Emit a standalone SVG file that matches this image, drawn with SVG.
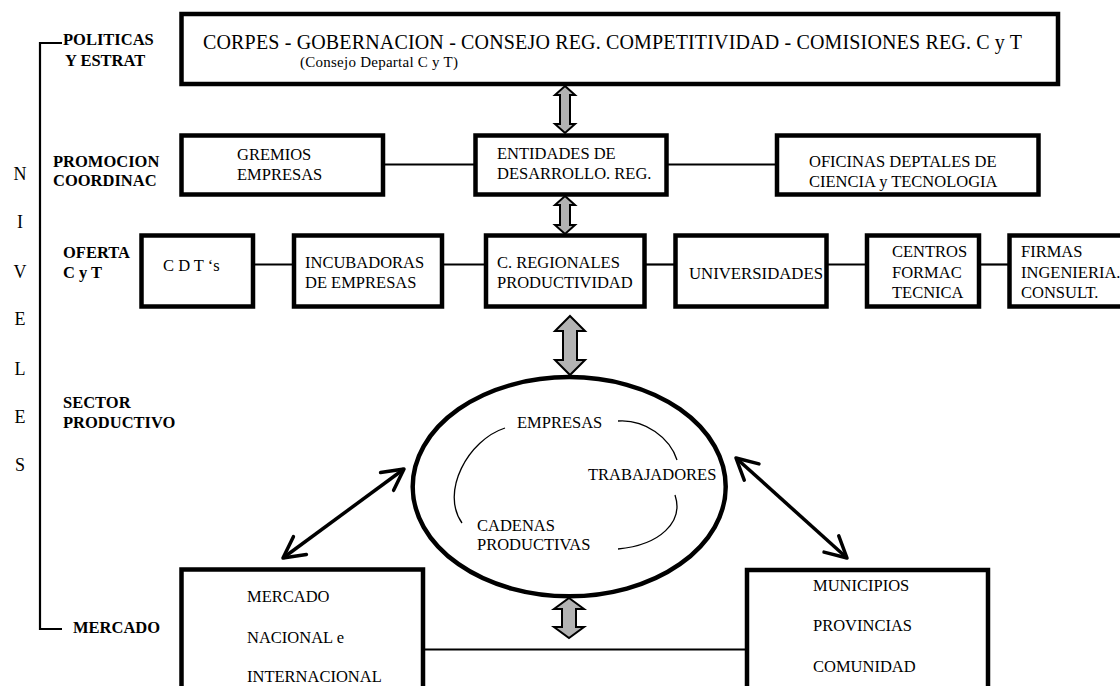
<svg xmlns="http://www.w3.org/2000/svg" width="1120" height="686" viewBox="0 0 1120 686">
<style>
.t{font-family:"Liberation Serif","Times New Roman",serif;font-size:16.5px;fill:#000}
.b{font-weight:bold}
.t.big{font-size:20px}
.t.sm{font-size:15px}
.t.nv{font-size:18px}
.box{fill:#fff;stroke:#000;stroke-width:4.5}
.ln{stroke:#000;stroke-width:2.2;fill:none}
.ga{fill:#b3b3b3;stroke:#000;stroke-width:2;stroke-linejoin:miter}
.thin{stroke:#000;stroke-width:1.3;fill:none}
.da{stroke:#000;stroke-width:3.5;fill:none;marker-start:url(#oa);marker-end:url(#oa)}
</style>
<defs>
<marker id="oa" viewBox="-26 -14 30 28" markerWidth="30" markerHeight="28" refX="0" refY="0" orient="auto-start-reverse" markerUnits="userSpaceOnUse">
<path d="M-21,-11 L0,0 L-21,11" fill="none" stroke="#000" stroke-width="3.5" stroke-linecap="round" stroke-linejoin="round"/>
</marker>
</defs>
<rect width="1120" height="686" fill="#fff"/>

<g id="niveles">
<path class="ln" d="M62,43 H40 V629 H62"/>
<text class="t nv" x="20" y="180" text-anchor="middle">N</text>
<text class="t nv" x="20" y="228" text-anchor="middle">I</text>
<text class="t nv" x="20" y="278" text-anchor="middle">V</text>
<text class="t nv" x="20" y="325" text-anchor="middle">E</text>
<text class="t nv" x="20" y="375" text-anchor="middle">L</text>
<text class="t nv" x="20" y="423" text-anchor="middle">E</text>
<text class="t nv" x="20" y="471" text-anchor="middle">S</text>
<text class="t b" x="63" y="45">POLITICAS</text>
<text class="t b" x="65" y="66">Y ESTRAT</text>
<text class="t b" x="53" y="167">PROMOCION</text>
<text class="t b" x="53" y="186">COORDINAC</text>
<text class="t b" x="63" y="258">OFERTA</text>
<text class="t b" x="63" y="278">C y T</text>
<text class="t b" x="63" y="408">SECTOR</text>
<text class="t b" x="63" y="428">PRODUCTIVO</text>
<text class="t b" x="73" y="633">MERCADO</text>
</g>

<g id="connectors">
<line class="ln" x1="383" y1="164.5" x2="475" y2="164.5"/>
<line class="ln" x1="666" y1="164.5" x2="777" y2="164.5"/>
<line class="ln" x1="250" y1="264.5" x2="294" y2="264.5"/>
<line class="ln" x1="442" y1="264.5" x2="486" y2="264.5"/>
<line class="ln" x1="644" y1="264.5" x2="675" y2="264.5"/>
<line class="ln" x1="826" y1="264.5" x2="867" y2="264.5"/>
<line class="ln" x1="979" y1="264.5" x2="1009" y2="264.5"/>
<line class="ln" x1="423" y1="649.5" x2="747" y2="649.5"/>
<path class="ga" d="M565,86 L575,95 L570,95 L570,124 L575,124 L565,133 L555,124 L560,124 L560,95 L555,95 Z"/>
<path class="ga" d="M565,196 L575,205 L570,205 L570,225 L575,225 L565,234 L555,225 L560,225 L560,205 L555,205 Z"/>
<path class="ga" d="M570,316 L585,331 L577,331 L577,360 L585,360 L570,375 L555,360 L563,360 L563,331 L555,331 Z"/>
<path class="ga" d="M569,598 L584,609 L576,609 L576,627 L584,627 L569,638 L554,627 L562,627 L562,609 L554,609 Z"/>
<line class="da" x1="283" y1="558" x2="404" y2="469"/>
<line class="da" x1="736" y1="458" x2="847" y2="558"/>
</g>

<g id="n-top">
<rect class="box" x="181.5" y="14" width="876.5" height="70"/>
<text class="t big" x="203" y="49" textLength="819" lengthAdjust="spacing">CORPES - GOBERNACION - CONSEJO REG. COMPETITIVIDAD - COMISIONES REG.  C y T</text>
<text class="t sm" x="300" y="67" textLength="158" lengthAdjust="spacing">(Consejo Departal C y T)</text>
</g>

<g id="n-gremios">
<rect class="box" x="181.5" y="135.5" width="201.5" height="59"/>
<text class="t" x="237" y="160">GREMIOS</text>
<text class="t" x="237" y="180">EMPRESAS</text>
</g>
<g id="n-entidades">
<rect class="box" x="475.5" y="135.5" width="191" height="59"/>
<text class="t" x="497" y="159">ENTIDADES  DE</text>
<text class="t" x="497" y="179">DESARROLLO.  REG.</text>
</g>
<g id="n-oficinas">
<rect class="box" x="777" y="135.5" width="261.5" height="59"/>
<text class="t" x="809" y="167">OFICINAS DEPTALES  DE</text>
<text class="t" x="809" y="187">CIENCIA y TECNOLOGIA</text>
</g>

<g id="n-cdt">
<rect class="box" x="141.5" y="235.5" width="111.5" height="71"/>
<text class="t" x="163" y="271">C D T ‘s</text>
</g>
<g id="n-incubadoras">
<rect class="box" x="294" y="235.5" width="148" height="71"/>
<text class="t" x="305" y="268">INCUBADORAS</text>
<text class="t" x="305" y="288">DE EMPRESAS</text>
</g>
<g id="n-cregionales">
<rect class="box" x="486" y="235.5" width="158.5" height="71"/>
<text class="t" x="497" y="268">C. REGIONALES</text>
<text class="t" x="497" y="288">PRODUCTIVIDAD</text>
</g>
<g id="n-universidades">
<rect class="box" x="675.5" y="235.5" width="151" height="71"/>
<text class="t" x="689" y="279" textLength="134" lengthAdjust="spacingAndGlyphs">UNIVERSIDADES</text>
</g>
<g id="n-centros">
<rect class="box" x="867" y="235.5" width="112" height="71"/>
<text class="t" x="892" y="257">CENTROS</text>
<text class="t" x="892" y="278">FORMAC</text>
<text class="t" x="892" y="298">TECNICA</text>
</g>
<g id="n-firmas">
<rect class="box" x="1009.5" y="235.5" width="130" height="71"/>
<text class="t" x="1021" y="257">FIRMAS</text>
<text class="t" x="1021" y="278">INGENIERIA.</text>
<text class="t" x="1021" y="298">CONSULT.</text>
</g>

<g id="n-sector">
<ellipse cx="569.2" cy="486.7" rx="156.5" ry="109.6" fill="#fff" stroke="#000" stroke-width="4.5"/>
<path class="thin" d="M505,428 C468,440 440,492 462,523"/>
<path class="thin" d="M618,421 C645,419 670,438 677,460"/>
<path class="thin" d="M675,495 C684,522 660,545 618,549"/>
<text class="t" x="517" y="428">EMPRESAS</text>
<text class="t" x="588" y="480">TRABAJADORES</text>
<text class="t" x="477" y="531">CADENAS</text>
<text class="t" x="477" y="550">PRODUCTIVAS</text>
</g>

<g id="n-mercado">
<rect class="box" x="181.5" y="569.5" width="241.5" height="140"/>
<text class="t" x="247" y="602">MERCADO</text>
<text class="t" x="247" y="643">NACIONAL  e</text>
<text class="t" x="247" y="682">INTERNACIONAL</text>
</g>
<g id="n-municipios">
<rect class="box" x="747" y="570" width="241" height="140"/>
<text class="t" x="813" y="591">MUNICIPIOS</text>
<text class="t" x="813" y="631">PROVINCIAS</text>
<text class="t" x="813" y="672">COMUNIDAD</text>
</g>
</svg>
